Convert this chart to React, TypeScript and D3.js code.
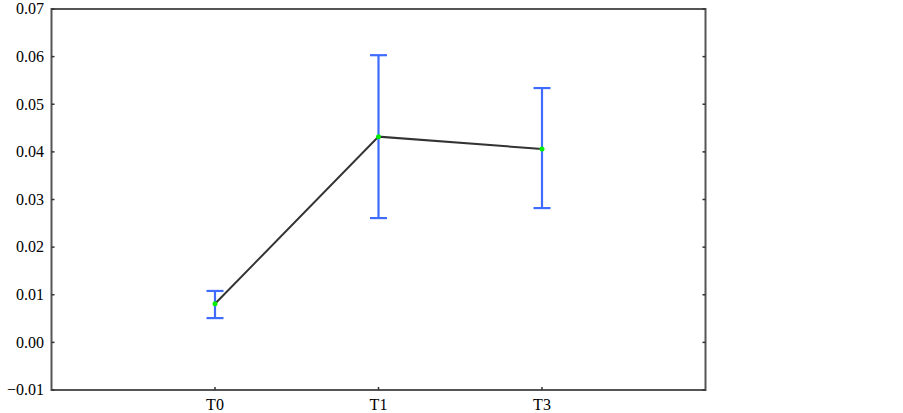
import React from "react";
import * as d3 from "d3";

const categories = ["T0", "T1", "T3"];
const means = [0.0081, 0.0432, 0.0406];
const upper = [0.0108, 0.0603, 0.0534];
const lower = [0.0051, 0.0261, 0.0282];
const yTicks = [-0.01, 0.0, 0.01, 0.02, 0.03, 0.04, 0.05, 0.06, 0.07];

export default function App() {
  const W = 903, H = 413;
  const left = 51.5, right = 705.5, top = 9, bottom = 390;
  const x = d3.scaleLinear().domain([0, categories.length + 1]).range([left, right]);
  const y = d3.scaleLinear().domain([-0.01, 0.07]).range([bottom, top]);
  const line = d3.line<number>().x((_, i) => x(i + 1)).y((d) => y(d));
  const textStyle = { fontFamily: "'Liberation Serif'", fontSize: "16px" };
  return (
    <svg width={W} height={H} style={{ position: "absolute", left: 0, top: 0, background: "#fff" }}>
      <rect x={left} y={top} width={right - left} height={bottom - top} fill="none" stroke="#555" strokeWidth={2} />
      {yTicks.map((t) => (
        <g key={t}>
          <line x1={left} x2={left + 3} y1={y(t)} y2={y(t)} stroke="#333" strokeWidth={1.5} />
          <line x1={right - 3} x2={right} y1={y(t)} y2={y(t)} stroke="#333" strokeWidth={1.5} />
          <text x={44} y={y(t)} dy="0.33em" textAnchor="end" style={textStyle} fill="#000">
            {t < 0 ? "\u2212" + Math.abs(t).toFixed(2) : t.toFixed(2)}
          </text>
        </g>
      ))}
      {categories.map((c, i) => (
        <g key={c}>
          <line x1={x(i + 1)} x2={x(i + 1)} y1={bottom} y2={bottom - 3} stroke="#333" strokeWidth={1.5} />
          <text x={x(i + 1)} y={410} textAnchor="middle" style={textStyle} fill="#000">{c}</text>
        </g>
      ))}
      {categories.map((c, i) => (
        <g key={"e" + c} stroke="#3f6cff" strokeWidth={2.2}>
          <line x1={x(i + 1)} x2={x(i + 1)} y1={y(upper[i])} y2={y(lower[i])} />
          <line x1={x(i + 1) - 8.5} x2={x(i + 1) + 8.5} y1={y(upper[i])} y2={y(upper[i])} />
          <line x1={x(i + 1) - 8.5} x2={x(i + 1) + 8.5} y1={y(lower[i])} y2={y(lower[i])} />
        </g>
      ))}
      <path d={line(means) || ""} fill="none" stroke="#333" strokeWidth={2} />
      {means.map((m, i) => (
        <circle key={i} cx={x(i + 1)} cy={y(m)} r={2.5} fill="#00ee00" />
      ))}
    </svg>
  );
}
